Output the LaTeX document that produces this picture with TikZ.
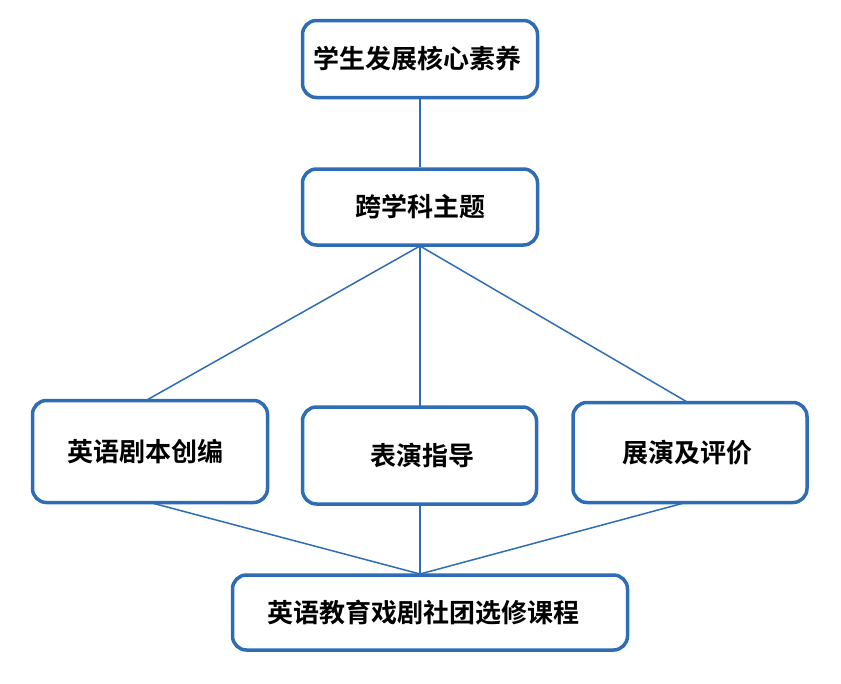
\documentclass[tikz,border=0pt]{standalone}
\usepackage{fontspec}
\newfontfamily\cjk{Noto Sans CJK SC}[BoldFont={Noto Sans CJK SC Bold}]
\definecolor{boxblue}{HTML}{2E6DB4}
\begin{document}
\begin{tikzpicture}[x=1pt,y=-1pt,
  box/.style={draw=boxblue,line width=3.5pt,rounded corners=14pt,fill=white,
    font=\cjk\bfseries\fontsize{26}{30}\selectfont,text=black,inner sep=0pt},
  link/.style={draw=boxblue,line width=1.5pt}]
\useasboundingbox (0,0) rectangle (841,683);
\node[box,minimum width=235pt,minimum height=77pt] (a) at (420,59) {\kern-5pt 学生发展核心素养};
\node[box,minimum width=235pt,minimum height=76pt] (b) at (420,207) {跨学科主题};
\node[box,minimum width=235pt,minimum height=102pt] (c) at (150,451.5) {\kern-9pt 英语剧本创编};
\node[box,minimum width=234pt,minimum height=97pt] (d) at (419.5,455.5) {\kern5pt 表演指导};
\node[box,minimum width=234pt,minimum height=100pt] (e) at (690,452.5) {\kern-6pt 展演及评价};
\node[box,minimum width=395pt,minimum height=75pt] (f) at (430,612.5) {\kern-14pt 英语教育戏剧社团选修课程};
\coordinate (bt) at (420,246);
\coordinate (ft) at (420,574);
\draw[link] (a.south -| bt) -- (bt |- b.north);
\draw[link] (bt) -- (146,400.5);
\draw[link] (bt) -- (420,407);
\draw[link] (bt) -- (688,402.5);
\draw[link] (152,503) -- (ft);
\draw[link] (420,504) -- (ft);
\draw[link] (684,503) -- (ft);
\end{tikzpicture}
\end{document}
